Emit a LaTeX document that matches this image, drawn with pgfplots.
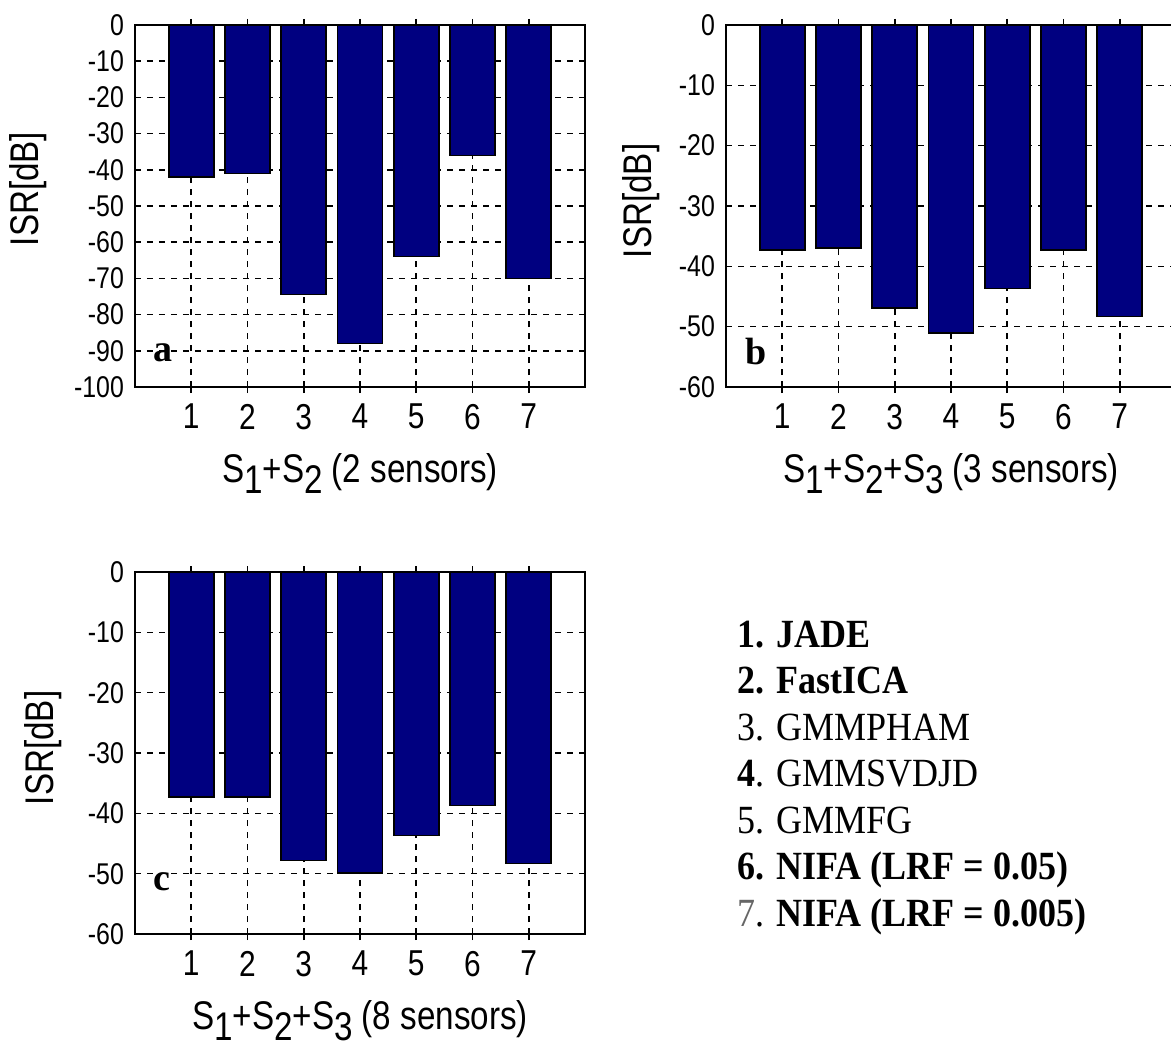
\documentclass[border=0pt]{standalone}
\usepackage{pgfplots}
\pgfplotsset{compat=1.18}
\usepackage{fontspec}
\setmainfont{Liberation Serif}
\newfontfamily\matfont[FakeStretch=0.83]{Liberation Sans}
\newfontfamily\legfont[FakeStretch=0.9]{Liberation Serif}
\definecolor{navy}{RGB}{0,0,128}
\newcommand{\sub}[1]{\raisebox{-0.28em}{#1}}
\pgfplotsset{
  matbar/.style={
    scale only axis, width=225pt, height=181pt, anchor=south west,
    xmin=0, xmax=8, xtick={1,2,3,4,5,6,7},
    grid=major,
    major grid style={black, line width=0.8pt, dash pattern=on 3pt off 3pt},
    axis line style={black, line width=1pt},
    tick style={black, line width=0.8pt},
    tick align=inside, major tick length=3pt,
    /pgf/number format/assume math mode=true,
    xticklabel style={font=\matfont\fontsize{18}{20}\selectfont, yshift=-2pt},
    yticklabel style={font=\matfont\fontsize{15}{17}\selectfont, xshift=-2pt},
    label style={font=\matfont\fontsize{20}{22}\selectfont},
    ylabel={ISR[dB]},
    xlabel style={at={(axis description cs:0.5,-0.165)}, anchor=north},
    ybar, bar width=0.8,
  }
}
\begin{document}
\begin{tikzpicture}
\useasboundingbox (0pt,0pt) rectangle (585.5pt,-524pt);
% panel a
\begin{axis}[matbar, at={(67.5pt,-193.5pt)},
  ymin=-100, ymax=0, ytick={-100,-90,...,0},
  ylabel style={at={(axis description cs:-0.238,0.547)}, anchor=center},
  xlabel={S\sub{1}+S\sub{2} (2 sensors)}]
\addplot[fill=navy, draw=black, line width=0.8pt] coordinates {(1,-42) (2,-41) (3,-74.5) (4,-88) (5,-64) (6,-36) (7,-70)};
\node[font=\bfseries\fontsize{19}{20}\selectfont, anchor=center] at (rel axis cs:0.062,0.094) {a};
\end{axis}
% panel b
\begin{axis}[matbar, at={(363pt,-193.5pt)},
  ymin=-60, ymax=0, ytick={-60,-50,...,0},
  ylabel style={at={(axis description cs:-0.189,0.514)}, anchor=center},
  xlabel={S\sub{1}+S\sub{2}+S\sub{3} (3 sensors)}]
\addplot[fill=navy, draw=black, line width=0.8pt] coordinates {(1,-37.3) (2,-37) (3,-46.9) (4,-51) (5,-43.7) (6,-37.3) (7,-48.3)};
\node[font=\bfseries\fontsize{19}{20}\selectfont, anchor=center] at (rel axis cs:0.066,0.097) {b};
\end{axis}
% panel c
\begin{axis}[matbar, at={(67.5pt,-467pt)},
  ymin=-60, ymax=0, ytick={-60,-50,...,0},
  ylabel style={at={(axis description cs:-0.204,0.514)}, anchor=center},
  xlabel={S\sub{1}+S\sub{2}+S\sub{3} (8 sensors)}]
\addplot[fill=navy, draw=black, line width=0.8pt] coordinates {(1,-37.3) (2,-37.3) (3,-47.8) (4,-49.9) (5,-43.7) (6,-38.7) (7,-48.3)};
\node[font=\bfseries\fontsize{19}{20}\selectfont, anchor=center] at (rel axis cs:0.06,0.144) {c};
\end{axis}
% legend text
\begin{scope}[every node/.style={anchor=base west, inner sep=0pt, font=\legfont\fontsize{20}{22}\selectfont}]
\node at (368.5pt,-323.5pt) {\bfseries 1. JADE};
\node at (368.5pt,-346.75pt) {\bfseries 2. FastICA};
\node at (368.5pt,-370pt) {3. GMMPHAM};
\node at (368.5pt,-393.25pt) {\textbf{4}. GMMSVDJD};
\node at (368.5pt,-416.5pt) {5. GMMFG};
\node at (368.5pt,-439.75pt) {\bfseries 6. NIFA (LRF = 0.05)};
\node at (368.5pt,-463pt) {\textcolor{black!60}{7}. \textbf{NIFA (LRF = 0.005)}};
\end{scope}
\end{tikzpicture}
\end{document}
